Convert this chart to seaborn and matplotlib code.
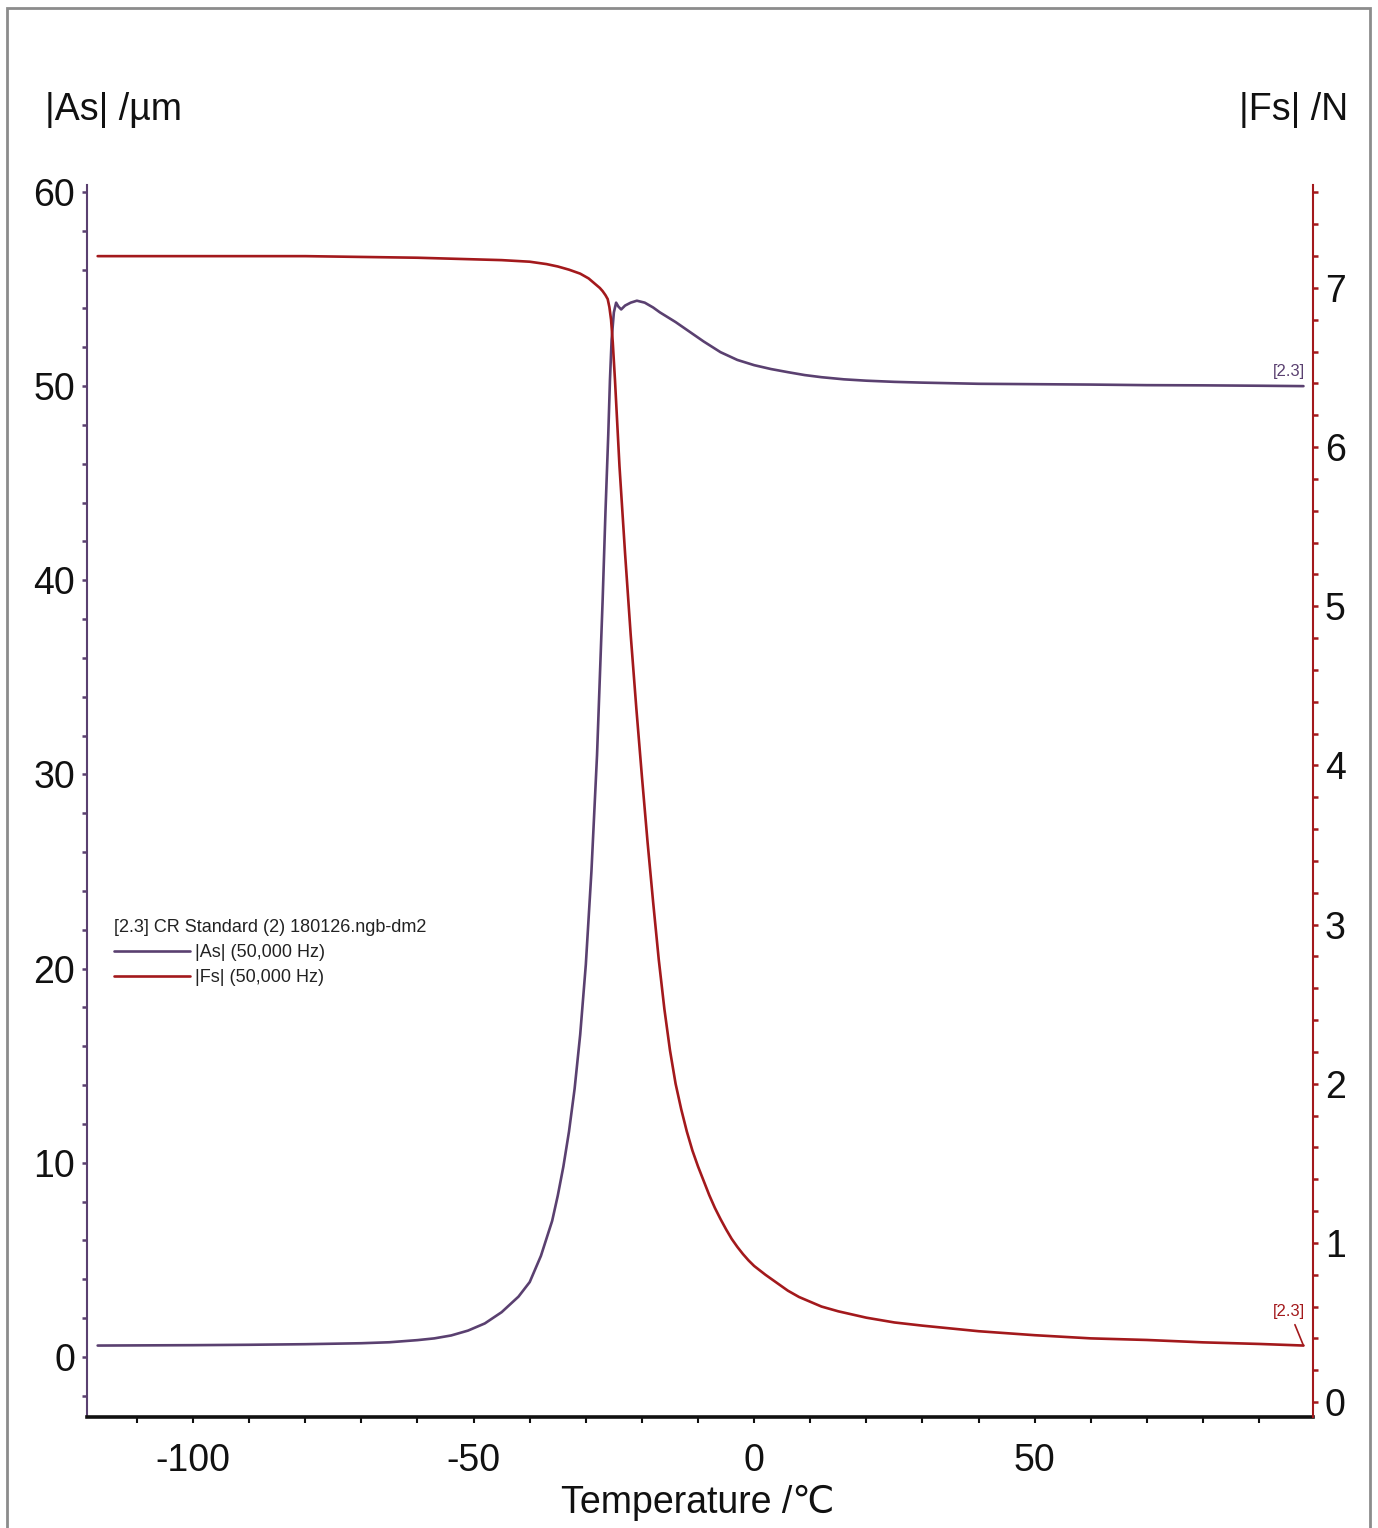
import matplotlib
matplotlib.use("Agg")
import matplotlib.pyplot as plt
from matplotlib.ticker import MultipleLocator
from matplotlib.patches import Rectangle
import seaborn as sns
import pandas as pd

# ---------------- data ----------------
temp_as = [-117, -100, -90, -80, -70, -65, -60, -57, -54, -51, -48, -45, -42, -40,
           -38, -36, -35, -34, -33, -32, -31, -30, -29, -28, -27.5, -27, -26.5, -26,
           -25.7, -25.4, -25.0, -24.6, -24.2, -23.7, -23.0, -22.0,
           -20.9, -19.5, -18.0, -16.8, -14, -12, -9, -6, -3, 0, 3, 6, 9, 12, 16, 20,
           25, 30, 40, 50, 60, 70, 80, 90, 97.9]
as_vals = [0.58, 0.60, 0.62, 0.65, 0.70, 0.75, 0.86, 0.95, 1.10, 1.35, 1.72, 2.30, 3.10, 3.85,
           5.20, 7.00, 8.30, 9.80, 11.6, 13.8, 16.6, 20.2, 25.0, 31.0, 35.0, 39.0, 43.5, 47.5,
           50.3, 52.4, 53.8, 54.3, 54.1, 53.95, 54.15, 54.3,
           54.4, 54.3, 54.05, 53.8, 53.3, 52.9, 52.3, 51.75, 51.35, 51.08, 50.88, 50.72, 50.57, 50.46, 50.35, 50.28,
           50.22, 50.18, 50.12, 50.10, 50.08, 50.05, 50.04, 50.02, 50.0]

temp_fs = [-117, -100, -90, -80, -70, -60, -55, -50, -45, -40, -37, -35, -33, -31,
           -29.5, -28.5, -27.5, -27.0, -26.5, -26.1, -25.8, -25.5, -25.2, -24.8,
           -24, -23, -22, -21, -20, -19, -18, -17, -16, -15, -14, -13, -12, -11, -10,
           -9, -8, -7, -6, -5, -4, -3, -2, -1, 0, 2, 4, 6, 8, 10, 12, 15, 20, 25, 30,
           40, 50, 60, 70, 80, 90, 97.9]
fs_vals = [7.20, 7.20, 7.20, 7.20, 7.195, 7.19, 7.185, 7.18, 7.175, 7.165, 7.15, 7.135, 7.115, 7.09,
           7.06, 7.03, 7.00, 6.98, 6.955, 6.93, 6.88, 6.80, 6.66, 6.42,
           5.88, 5.33, 4.82, 4.36, 3.93, 3.52, 3.14, 2.78, 2.47, 2.21, 2.00, 1.84, 1.70, 1.58, 1.48,
           1.39, 1.30, 1.22, 1.15, 1.085, 1.025, 0.975, 0.93, 0.89, 0.855, 0.80, 0.75, 0.70, 0.66, 0.63, 0.60, 0.57, 0.53, 0.50, 0.48,
           0.445, 0.42, 0.40, 0.39, 0.375, 0.365, 0.355]

x_ticks = [-100, -50, 0, 50]
left_ticks = [0, 10, 20, 30, 40, 50, 60]
right_ticks = [0, 1, 2, 3, 4, 5, 6, 7]

legend_title = "[2.3] CR Standard (2) 180126.ngb-dm2"
label_as = "|As| (50,000 Hz)"
label_fs = "|Fs| (50,000 Hz)"
curve_tag = "[2.3]"

df_as = pd.DataFrame({"Temperature": temp_as, "As": as_vals})
df_fs = pd.DataFrame({"Temperature": temp_fs, "Fs": fs_vals})

# ---------------- style ----------------
sns.set_style("ticks")
FONT = ["Liberation Sans Narrow", "Liberation Sans", "DejaVu Sans"]
plt.rcParams["font.family"] = FONT
plt.rcParams["axes.unicode_minus"] = False

PURPLE = "#5a4070"
RED = "#a3191c"
W, H = 1378, 1528

fig = plt.figure(figsize=(W / 100, H / 100), dpi=100)
fig.patch.set_facecolor("white")

# outer grey frame
fig.patches.append(Rectangle((7 / W, -0.02), (1370 - 7) / W, 1.02 - 8 / H,
                             transform=fig.transFigure, fill=False,
                             edgecolor="#8c8c8c", linewidth=2.0))

L, R, B, T = 87, 1313, 1417, 185
ax = fig.add_axes([L / W, 1 - B / H, (R - L) / W, (B - T) / H])
ax2 = ax.twinx()

sns.lineplot(data=df_as, x="Temperature", y="As", ax=ax, color=PURPLE,
             linewidth=1.9, label=label_as, sort=False, estimator=None, legend=False)
sns.lineplot(data=df_fs, x="Temperature", y="Fs", ax=ax2, color=RED,
             linewidth=1.9, label=label_fs, sort=False, estimator=None, legend=False)

ax.set_xlim(-118.9, 99.6)
ax.set_ylim(-3.1, 60.36)
ax2.set_ylim(-0.094, 7.647)

# spines
for a in (ax, ax2):
    a.spines["top"].set_visible(False)
ax.spines["right"].set_visible(False)
ax2.spines["left"].set_visible(False)
ax2.spines["bottom"].set_visible(False)
ax.spines["left"].set_color(PURPLE)
ax.spines["left"].set_linewidth(1.5)
ax2.spines["right"].set_color(RED)
ax2.spines["right"].set_linewidth(1.5)
ax.spines["bottom"].set_color("#111111")
ax.spines["bottom"].set_linewidth(2.6)

# ticks
TICK_FS = 27
ax.set_xticks(x_ticks)
ax.xaxis.set_minor_locator(MultipleLocator(10))
ax.set_yticks(left_ticks)
ax.yaxis.set_minor_locator(MultipleLocator(2))
ax2.set_yticks(right_ticks)
ax2.yaxis.set_minor_locator(MultipleLocator(0.2))

ax.tick_params(axis="x", which="both", direction="out", length=4, width=1.5,
               color="#111111", labelsize=TICK_FS, pad=15, labelcolor="#111111")
ax.tick_params(axis="y", which="both", direction="out", length=3.5, width=1.8,
               color=PURPLE, labelsize=TICK_FS, pad=5, labelcolor="#111111")
ax2.tick_params(axis="y", which="both", direction="out", length=3.5, width=1.8,
                color=RED, labelsize=TICK_FS, pad=5, labelcolor="#111111")
for lab in ax.get_xticklabels() + ax.get_yticklabels() + ax2.get_yticklabels():
    lab.set_family(FONT)

# axis labels
ax.set_xlabel("Temperature /\u2103", fontsize=TICK_FS, family=FONT, color="#111111")
ax.xaxis.set_label_coords((698 - L) / (R - L), (B - 1503) / (B - T))
ax.xaxis.label.set_va("center")

ax.set_ylabel("|As| /µm", fontsize=TICK_FS, family=FONT, rotation=0, color="#111111")
ax.yaxis.set_label_coords((45 - L) / (R - L), (B - 110) / (B - T))
ax.yaxis.label.set_ha("left")
ax.yaxis.label.set_va("center")

ax2.set_ylabel("|Fs| /N", fontsize=TICK_FS, family=FONT, rotation=0, color="#111111")
ax2.yaxis.set_label_coords((1348 - L) / (R - L), (B - 110) / (B - T))
ax2.yaxis.label.set_ha("right")
ax2.yaxis.label.set_va("center")

# curve tags
ax.annotate(curve_tag, xy=(temp_as[-1], as_vals[-1]), xytext=(95.4, 50.75),
            fontsize=12, color=PURPLE, ha="center", va="center", family=FONT)
ax2.annotate(curve_tag, xy=(temp_fs[-1], fs_vals[-1]), xytext=(95.4, 0.57),
             fontsize=12, color=RED, ha="center", va="center", family=FONT,
             arrowprops=dict(arrowstyle="-", color=RED, lw=1.2, shrinkA=2, shrinkB=0))

# legend
h1, l1 = ax.get_legend_handles_labels()
h2, l2 = ax2.get_legend_handles_labels()
leg = ax.legend(h1 + h2, l1 + l2, title=legend_title, loc="upper left",
                bbox_to_anchor=(114 / W, 1 - 919 / H), bbox_transform=fig.transFigure,
                frameon=False, fontsize=13, title_fontsize=13, alignment="left",
                handlelength=4.2, handletextpad=0.3, labelspacing=0.45,
                borderpad=0, borderaxespad=0)
for t in leg.get_texts():
    t.set_family(FONT)
    t.set_color("#222222")
leg.get_title().set_family(FONT)
leg.get_title().set_color("#222222")

fig.savefig("out.png", dpi=100, facecolor="white")
